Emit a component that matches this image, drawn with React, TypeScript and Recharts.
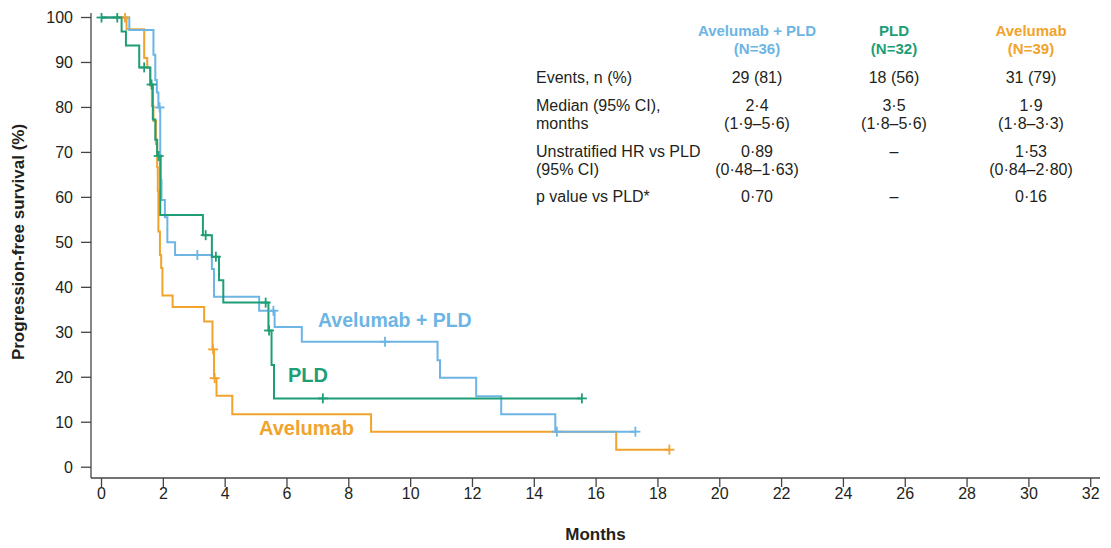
import React from "react";
import { ComposedChart, Line, Scatter, XAxis, YAxis, Label } from "recharts";

const monthTicks = [0, 2, 4, 6, 8, 10, 12, 14, 16, 18, 20, 22, 24, 26, 28, 30, 32];
const pfsTicks = [0, 10, 20, 30, 40, 50, 60, 70, 80, 90, 100];

// Avelumab + PLD
const comboTimes = [0, 0.9, 1.68, 1.74, 1.79, 1.84, 1.9, 1.92, 1.94, 2.05, 2.13, 2.38, 3.57, 3.64, 5.1, 5.6, 6.48, 10.87, 10.95, 12.12, 12.93, 14.68, 17.27];
const comboSurv = [100, 97.2, 91.7, 86.1, 83.3, 80.0, 69.4, 63.9, 59.4, 55.6, 50.0, 47.2, 44.1, 37.9, 34.8, 31.2, 27.9, 23.8, 19.9, 15.8, 11.8, 7.9, 7.9];
const comboCensorTimes = [1.88, 3.1, 5.56, 9.17, 14.73, 17.27];
const comboCensorSurv = [80.0, 47.2, 34.8, 27.9, 7.9, 7.9];

// PLD
const pldTimes = [0, 0.65, 0.79, 1.22, 1.58, 1.66, 1.74, 1.8, 1.9, 3.28, 3.57, 3.8, 3.94, 5.4, 5.5, 5.58, 15.54];
const pldSurv = [100, 96.9, 93.8, 88.9, 85.1, 77.3, 72.8, 69.2, 56.1, 51.6, 46.8, 41.6, 36.6, 30.4, 22.7, 15.3, 15.3];
const pldCensorTimes = [0, 0.51, 1.38, 1.62, 1.85, 3.37, 3.7, 5.31, 5.42, 7.16, 15.54];
const pldCensorSurv = [100, 100, 88.9, 85.1, 69.2, 51.6, 46.8, 36.6, 30.4, 15.3, 15.3];

// Avelumab
const aveTimes = [0, 0.81, 1.38, 1.48, 1.57, 1.63, 1.68, 1.76, 1.8, 1.82, 1.84, 1.89, 1.93, 1.97, 2.3, 3.32, 3.59, 3.64, 3.72, 4.23, 8.72, 16.65, 18.37];
const aveSurv = [100, 97.4, 91.0, 88.9, 84.9, 80.3, 77.0, 71.8, 66.7, 61.5, 52.4, 47.2, 44.3, 38.2, 35.6, 32.4, 26.2, 19.8, 15.9, 11.8, 7.9, 3.9, 3.9];
const aveCensorTimes = [0.76, 3.61, 3.66, 18.37];
const aveCensorSurv = [100, 26.2, 19.8, 3.9];

const BLUE = "#6cb5e4";
const GREEN = "#1d9e76";
const ORANGE = "#f1a32c";
const TEXT = "#231f20";
const FONT = "'Liberation Sans', Arial, sans-serif";

const toPoints = (times: number[], surv: number[]) => times.map((t, i) => ({ t, s: surv[i] }));

const comboData = toPoints(comboTimes, comboSurv);
const pldData = toPoints(pldTimes, pldSurv);
const aveData = toPoints(aveTimes, aveSurv);
const comboCensors = toPoints(comboCensorTimes, comboCensorSurv);
const pldCensors = toPoints(pldCensorTimes, pldCensorSurv);
const aveCensors = toPoints(aveCensorTimes, aveCensorSurv);

// censored observation: small plus sign
const censorMark = (color: string) => (props: any) => {
  const { cx, cy } = props;
  if (cx == null || cy == null) return <g />;
  return (
    <g>
      <line x1={cx - 5} x2={cx + 5} y1={cy} y2={cy} stroke={color} strokeWidth={1.8} />
      <line x1={cx} x2={cx} y1={cy - 5} y2={cy + 5} stroke={color} strokeWidth={1.8} />
    </g>
  );
};

// summary table in the upper right
const columns = [
  { x: 757, color: BLUE, name: "Avelumab + PLD", n: "(N=36)" },
  { x: 894, color: GREEN, name: "PLD", n: "(N=32)" },
  { x: 1031, color: ORANGE, name: "Avelumab", n: "(N=39)" },
];
const rowLabels = [
  ["Events, n (%)"],
  ["Median (95% CI),", "months"],
  ["Unstratified HR vs PLD", "(95% CI)"],
  ["p value vs PLD*"],
];
const rowValues = [
  [["29 (81)"], ["18 (56)"], ["31 (79)"]],
  [["2·4", "(1·9–5·6)"], ["3·5", "(1·8–5·6)"], ["1·9", "(1·8–3·3)"]],
  [["0·89", "(0·48–1·63)"], ["–"], ["1·53", "(0·84–2·80)"]],
  [["0·70"], ["–"], ["0·16"]],
];
const rowBaselines = [83, 111, 157, 202];
const LINE_GAP = 17.5;

export default function App() {
  return (
    <div style={{ position: "absolute", left: 0, top: 0, width: 1111, height: 548, background: "#fff" }}>
      <ComposedChart width={1111} height={548} margin={{ top: 13, right: 11, bottom: 0, left: 11 }}>
        <XAxis
          type="number"
          dataKey="t"
          domain={[-0.34, 32.3]}
          ticks={monthTicks}
          allowDataOverflow
          height={70}
          tickSize={9}
          tickMargin={1}
          stroke="#444"
          strokeWidth={1.3}
          tick={{ fill: TEXT, fontSize: 16, fontFamily: FONT }}
        >
          <Label value="Months" position="insideBottom" offset={8} fill={TEXT} fontSize={17} fontWeight="bold" fontFamily={FONT} />
        </XAxis>
        <YAxis
          type="number"
          dataKey="s"
          domain={[-2.4, 101]}
          ticks={pfsTicks}
          allowDataOverflow
          width={80}
          tickSize={10}
          tickMargin={8}
          stroke="#444"
          strokeWidth={1.3}
          tick={{ fill: TEXT, fontSize: 16, fontFamily: FONT }}
        />
        <Line data={aveData} dataKey="s" type="stepAfter" stroke={ORANGE} strokeWidth={2} dot={false} activeDot={false} isAnimationActive={false} />
        <Line data={comboData} dataKey="s" type="stepAfter" stroke={BLUE} strokeWidth={2} dot={false} activeDot={false} isAnimationActive={false} />
        <Line data={pldData} dataKey="s" type="stepAfter" stroke={GREEN} strokeWidth={2} dot={false} activeDot={false} isAnimationActive={false} />
        <Scatter data={aveCensors} shape={censorMark(ORANGE)} isAnimationActive={false} />
        <Scatter data={comboCensors} shape={censorMark(BLUE)} isAnimationActive={false} />
        <Scatter data={pldCensors} shape={censorMark(GREEN)} isAnimationActive={false} />
      </ComposedChart>
      <svg width={1111} height={548} style={{ position: "absolute", left: 0, top: 0, pointerEvents: "none" }} fontFamily={FONT}>
        <text x={24} y={242} transform="rotate(-90 24 242)" textAnchor="middle" fontSize={17} fontWeight="bold" fill={TEXT}>
          Progression-free survival (%)
        </text>

        <text x={318} y={327} fontSize={19.5} fontWeight="bold" fill={BLUE}>Avelumab + PLD</text>
        <text x={288} y={382} fontSize={20} fontWeight="bold" fill={GREEN}>PLD</text>
        <text x={259} y={435} fontSize={20} fontWeight="bold" fill={ORANGE}>Avelumab</text>

        {columns.map((c) => (
          <g key={c.name} fontSize={15} fontWeight="bold" fill={c.color} textAnchor="middle">
            <text x={c.x} y={36}>{c.name}</text>
            <text x={c.x} y={54}>{c.n}</text>
          </g>
        ))}
        {rowLabels.map((lines, r) => (
          <g key={r} fontSize={16} fill={TEXT}>
            {lines.map((s, k) => (
              <text key={k} x={536} y={rowBaselines[r] + k * LINE_GAP}>{s}</text>
            ))}
          </g>
        ))}
        {rowValues.map((row, r) =>
          row.map((cell, ci) => (
            <g key={`${r}-${ci}`} fontSize={16} fill={TEXT} textAnchor="middle">
              {cell.map((s, k) => (
                <text key={k} x={columns[ci].x} y={rowBaselines[r] + k * LINE_GAP}>{s}</text>
              ))}
            </g>
          ))
        )}
      </svg>
    </div>
  );
}
